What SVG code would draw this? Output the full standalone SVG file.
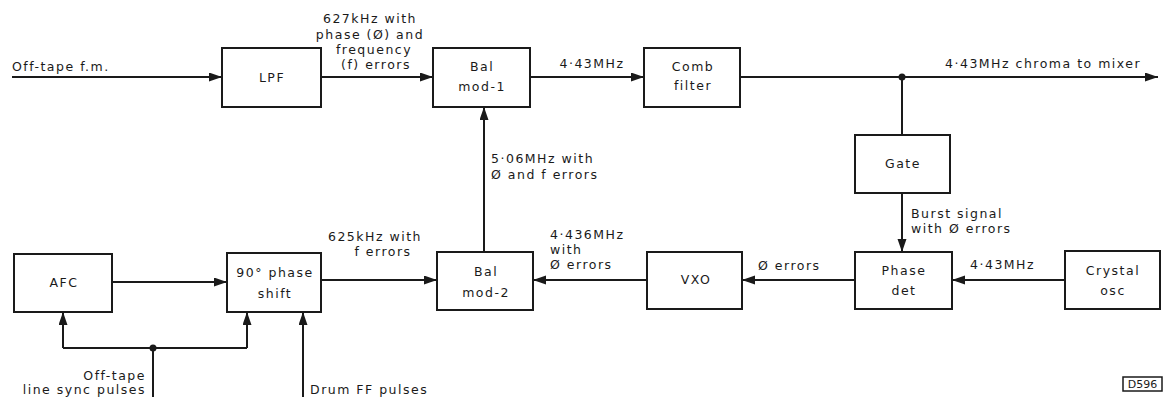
<svg xmlns="http://www.w3.org/2000/svg" width="1171" height="397" viewBox="0 0 1171 397">
<style>
.box{fill:#fff;stroke:#1a1a1a;stroke-width:2}
.ln{fill:none;stroke:#1a1a1a;stroke-width:2}
text{font-family:"DejaVu Sans","Liberation Sans",sans-serif;font-size:12.5px;fill:#1a1a1a;letter-spacing:1.5px}
.c{text-anchor:middle}
.r{text-anchor:end}
</style>
<defs>
<marker id="ah" markerUnits="userSpaceOnUse" markerWidth="14" markerHeight="10" refX="13" refY="4.5" orient="auto">
<path d="M0,0 L13,4.5 L0,9 z" fill="#1a1a1a"/>
</marker>
</defs>
<rect width="1171" height="397" fill="#fff"/>
<g id="connectors">
<path class="ln" d="M12,77 H222" marker-end="url(#ah)"/>
<path class="ln" d="M321,77 H433" marker-end="url(#ah)"/>
<path class="ln" d="M530,77 H644" marker-end="url(#ah)"/>
<path class="ln" d="M740,77 H1158" marker-end="url(#ah)"/>
<path class="ln" d="M902,77 V135"/>
<circle cx="902" cy="77" r="3.5" fill="#1a1a1a"/>
<path class="ln" d="M902,193 V252" marker-end="url(#ah)"/>
<path class="ln" d="M1065,280 H952" marker-end="url(#ah)"/>
<path class="ln" d="M855,280 H742" marker-end="url(#ah)"/>
<path class="ln" d="M647,280 H533" marker-end="url(#ah)"/>
<path class="ln" d="M321,280 H437" marker-end="url(#ah)"/>
<path class="ln" d="M484,252 V107" marker-end="url(#ah)"/>
<path class="ln" d="M112,282 H227" marker-end="url(#ah)"/>
<path class="ln" d="M153,397 V348"/>
<path class="ln" d="M63,348 H247"/>
<path class="ln" d="M63,348 V312" marker-end="url(#ah)"/>
<path class="ln" d="M247,348 V312" marker-end="url(#ah)"/>
<circle cx="153" cy="348" r="3.5" fill="#1a1a1a"/>
<path class="ln" d="M303,397 V312" marker-end="url(#ah)"/>
</g>
<g id="labels">
<text x="12" y="71">Off-tape f.m.</text>
<text class="c" x="370" y="23">627kHz with</text>
<text class="c" x="370" y="39">phase (Ø) and</text>
<text class="c" x="374" y="54">frequency</text>
<text class="c" x="376" y="69">(f) errors</text>
<text class="c" x="592" y="68">4·43MHz</text>
<text x="945" y="68">4·43MHz chroma to mixer</text>
<text x="491" y="163">5·06MHz with</text>
<text x="491" y="179">Ø and f errors</text>
<text x="911" y="218">Burst signal</text>
<text x="911" y="233">with Ø errors</text>
<text x="550" y="239">4·436MHz</text>
<text x="550" y="254">with</text>
<text x="550" y="269">Ø errors</text>
<text x="758" y="270">Ø errors</text>
<text x="970" y="269">4·43MHz</text>
<text class="c" x="375" y="241">625kHz with</text>
<text class="c" x="383" y="256">f errors</text>
<text class="r" x="146" y="380">Off-tape</text>
<text class="r" x="146" y="394">line sync pulses</text>
<text x="310" y="394">Drum FF pulses</text>
</g>
<g id="lpf"><rect class="box" x="222" y="48" width="99" height="59"/><text class="c" x="272" y="82">LPF</text></g>
<g id="balmod1"><rect class="box" x="433" y="48" width="97" height="59"/><text class="c" x="482" y="71">Bal</text><text class="c" x="482" y="91">mod-1</text></g>
<g id="comb"><rect class="box" x="644" y="48" width="96" height="59"/><text class="c" x="693" y="71">Comb</text><text class="c" x="693" y="90">filter</text></g>
<g id="gate"><rect class="box" x="855" y="135" width="95" height="58"/><text class="c" x="903" y="168">Gate</text></g>
<g id="phasedet"><rect class="box" x="855" y="252" width="97" height="57"/><text class="c" x="904" y="275">Phase</text><text class="c" x="904" y="295">det</text></g>
<g id="crystal"><rect class="box" x="1065" y="251" width="95" height="58"/><text class="c" x="1113" y="275">Crystal</text><text class="c" x="1113" y="295">osc</text></g>
<g id="vxo"><rect class="box" x="647" y="252" width="95" height="57"/><text class="c" x="696" y="284">VXO</text></g>
<g id="balmod2"><rect class="box" x="437" y="252" width="96" height="58"/><text class="c" x="486" y="276">Bal</text><text class="c" x="486" y="297">mod-2</text></g>
<g id="phaseshift"><rect class="box" x="227" y="253" width="94" height="59"/><text class="c" x="275" y="277">90° phase</text><text class="c" x="275" y="298">shift</text></g>
<g id="afc"><rect class="box" x="14" y="254" width="98" height="58"/><text class="c" x="64" y="287">AFC</text></g>
<g id="tag"><rect x="1123" y="377" width="39" height="14" fill="#fff" stroke="#1a1a1a" stroke-width="1.5"/><text class="c" x="1142.5" y="388" style="font-size:11px;letter-spacing:0">D596</text></g>
</svg>
